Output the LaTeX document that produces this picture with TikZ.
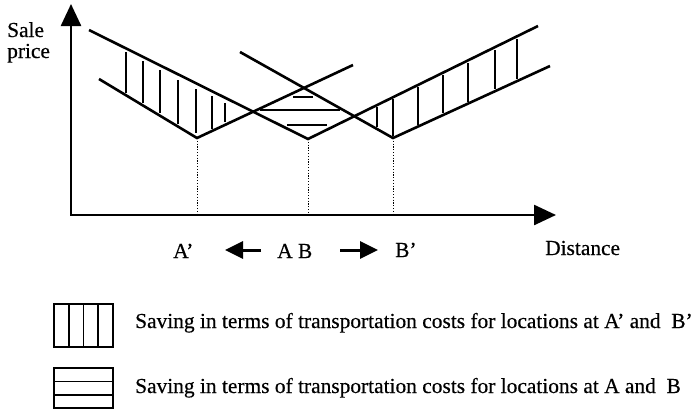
\documentclass[tikz,border=0pt]{standalone}
\usepackage{fontspec}
\setmainfont{Liberation Serif}[FakeBold=0.4]
\usetikzlibrary{arrows.meta}
\begin{document}
\begin{tikzpicture}[x=1pt,y=-1pt,
  curve/.style={line width=2.6pt},
  hatch/.style={line width=1.9pt},
  guide/.style={line width=0.9pt, dash pattern=on 1.2pt off 1.6pt},
  axis/.style={line width=2.5pt, {Triangle[length=22pt,width=20pt]}-{Triangle[length=22pt,width=20pt]}},
  move/.style={line width=3pt, -{Triangle[length=18pt,width=17pt]}},
  lbl/.style={font=\fontsize{21.4}{24}\selectfont, inner sep=0pt, anchor=base west},
  legbox/.style={line width=2pt},
  legline/.style={line width=1.6pt}
]
\useasboundingbox (0,0) rectangle (693,410);

% axes
\coordinate (O) at (71,215);
\coordinate (Ytip) at (71,4);
\coordinate (Xtip) at (556,215);
\draw[axis] (Ytip) -- (O) -- (Xtip);

% key points
\coordinate (P1) at (89,30);
\coordinate (VAB) at (308,139);
\coordinate (P2) at (538,26);
\coordinate (Q1) at (99,79);
\coordinate (VA) at (197,138);
\coordinate (Q2) at (353,65);
\coordinate (R1) at (240,52);
\coordinate (VB) at (393,138);
\coordinate (R2) at (550,66);

% price lines
\draw[curve] (P1) -- (VAB) -- (P2);
\draw[curve] (Q1) -- (VA) -- (Q2);
\draw[curve] (R1) -- (VB) -- (R2);

% dotted guides
\coordinate (gA) at (197,215);
\coordinate (gAB) at (308,215);
\coordinate (gB) at (393,215);
\draw[guide] (VA) -- (gA);
\draw[guide] (VAB) -- (gAB);
\draw[guide] (VB) -- (gB);

% vertical hatching
\foreach \x/\a/\b in {126/52/93,143/61/103,160/70/113,178/80/124,196/89/133,212/96/129,225/103/122,
                      377/107/127,393/99/136,418/87/125,443/75/113,468/63/102,495/50/89,517/39/79}
  \draw[hatch] (\x,\a) -- (\x,\b);

% horizontal hatching
\foreach \a/\b/\y in {293/313/97,260/340/110,287/327/125}
  \draw[hatch] (\a,\y) -- (\b,\y);

% axis labels
\node[lbl] (sale) at (7,37) {Sale};
\node[lbl] (price) at (7,58) {price};
\node[lbl] (dist) at (545,255) {Distance};

\node[lbl] (Ap) at (173,258) {A'};
\node[lbl] (AB) at (277,258) {A B};
\node[lbl] (Bp) at (395,257) {B'};
\coordinate (la0) at (261,250);
\coordinate (la1) at (225,250);
\coordinate (ra0) at (340,250);
\coordinate (ra1) at (378,250);
\draw[move] (la0) -- (la1);
\draw[move] (ra0) -- (ra1);

% legend
\draw[legbox] (54,304) rectangle (113,347);
\foreach \x in {68.75,83.5,98.25}
  \draw[legline] (\x,304) -- (\x,347);
\draw[legbox] (54,368) rectangle (113,408);
\foreach \y in {381.3,394.7}
  \draw[legline] (54,\y) -- (113,\y);

\node[lbl] (leg1) at (135,328) {Saving in terms of transportation costs for locations at A' and \ B'};
\node[lbl] (leg2) at (135,393) {Saving in terms of transportation costs for locations at A and \ B};
\end{tikzpicture}
\end{document}
